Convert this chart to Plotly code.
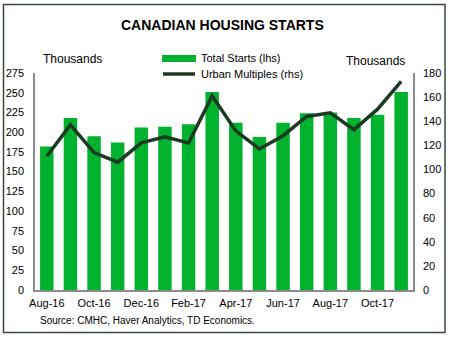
import plotly.graph_objects as go

months = ["Aug-16", "Sep-16", "Oct-16", "Nov-16", "Dec-16", "Jan-17", "Feb-17", "Mar-17",
          "Apr-17", "May-17", "Jun-17", "Jul-17", "Aug-17", "Sep-17", "Oct-17", "Nov-17"]
total_starts = [182, 218, 195, 187, 206, 207, 210, 251, 212, 194, 212, 224, 225, 218, 222, 251]
urban_multiples = [111, 137, 114, 106, 122, 127, 122, 161, 132, 117, 128, 144, 147, 133, 150, 173]
tick_labels = months[::2]

W, H = 450, 337
L, R, T, B = 35, 413, 73, 290


def px(x):
    return (x - L) / (R - L)


def py(y):
    return (B - y) / (B - T)


font = "Arial, Liberation Sans, sans-serif"
bar_color = "#00B22D"
line_color = "#1B3A22"

fig = go.Figure()
fig.add_trace(go.Bar(x=months, y=total_starts, marker=dict(color=bar_color, line=dict(width=0)),
                     name="Total Starts (lhs)", showlegend=False))
fig.add_trace(go.Scatter(x=months, y=urban_multiples, mode="lines", yaxis="y2",
                         line=dict(color=line_color, width=3.5), name="Urban Multiples (rhs)",
                         showlegend=False))

axis_line = "#8C8C8C"
fig.update_layout(
    width=W, height=H,
    margin=dict(l=L, r=W - R, t=T, b=H - B),
    paper_bgcolor="white", plot_bgcolor="white",
    bargap=0.43,
    font=dict(family=font, size=11, color="black"),
    xaxis=dict(type="category", tickvals=tick_labels, ticktext=tick_labels, automargin=False,
               showline=True, linecolor=axis_line, linewidth=1.5, ticks="",
               showgrid=False, tickfont=dict(size=11), ticklabelstandoff=2),
    yaxis=dict(range=[0, 275], dtick=25, showline=True, linecolor=axis_line, linewidth=1.5,
               showgrid=False, zeroline=False, ticks="", tickfont=dict(size=11),
               ticklabelstandoff=7, automargin=False),
    yaxis2=dict(range=[0, 180], dtick=20, overlaying="y", side="right", showline=True,
                linecolor=axis_line, linewidth=1.5, showgrid=False, zeroline=False,
                ticks="", tickfont=dict(size=11), ticklabelstandoff=6, automargin=False),
)

annotations = [
    dict(text="<b>CANADIAN HOUSING STARTS</b>", x=px(222), y=py(25), font=dict(size=14)),
    dict(text="Thousands", x=px(72), y=py(59), font=dict(size=12)),
    dict(text="Thousands", x=px(375), y=py(61), font=dict(size=12)),
    dict(text="Total Starts (lhs)", x=px(199), y=py(58), xanchor="left", font=dict(size=11)),
    dict(text="Urban Multiples (rhs)", x=px(199), y=py(74), xanchor="left", font=dict(size=11)),
    dict(text="Source: CMHC, Haver Analytics, TD Economics.", x=px(38), y=py(320),
         xanchor="left", font=dict(size=10)),
]
for a in annotations:
    a.setdefault("xanchor", "center")
    a.update(xref="paper", yref="paper", showarrow=False, yanchor="middle")
fig.update_layout(annotations=annotations)

shapes = [
    dict(type="rect", xref="paper", yref="paper", x0=px(3.5), x1=px(445), y0=py(4.5), y1=py(332.5),
         line=dict(color="#3A4A3A", width=1.5), fillcolor="rgba(0,0,0,0)", layer="below"),
    dict(type="rect", xref="paper", yref="paper", x0=px(162), x1=px(196), y0=py(62), y1=py(55),
         line=dict(width=0), fillcolor=bar_color),
    dict(type="line", xref="paper", yref="paper", x0=px(163), x1=px(195), y0=py(74), y1=py(74),
         line=dict(color=line_color, width=3.5)),
]
fig.update_layout(shapes=shapes)

fig.write_html("out.html")
